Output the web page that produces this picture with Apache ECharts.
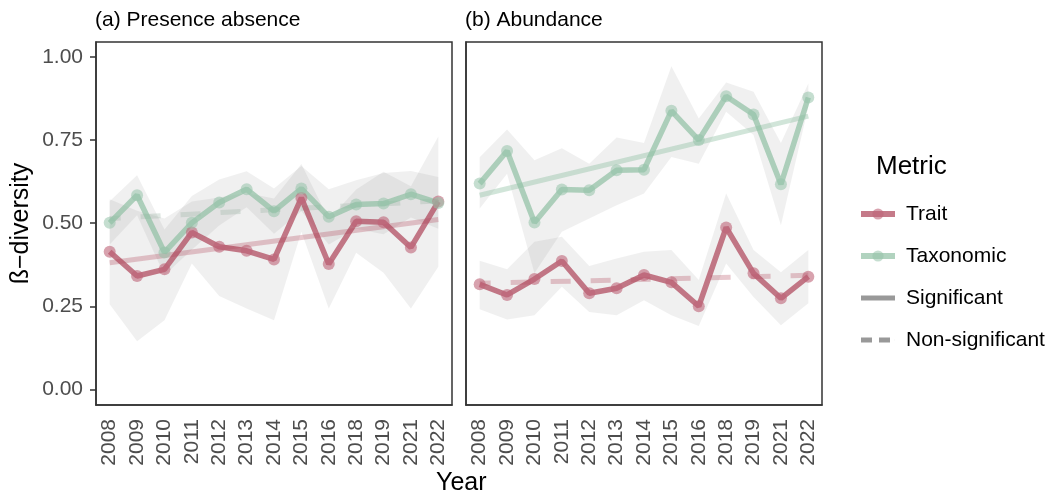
<!DOCTYPE html>
<html>
<head>
<meta charset="utf-8">
<script src="https://cdn.jsdelivr.net/npm/echarts@6/dist/echarts.min.js"></script>
<style>
  html, body { margin: 0; padding: 0; background: #fff; }
  #chart { width: 1054px; height: 494px; }
</style>
</head>
<body>
<div id="chart"></div>
<script>
// categories (2017 and 2020 not sampled)
const years = ['2008','2009','2010','2011','2012','2013','2014','2015','2016','2018','2019','2021','2022']
const yTicks = [0, 0.25, 0.5, 0.75, 1]

// (a) presence absence
const paTrait   = [0.414,0.341,0.361,0.472,0.429,0.417,0.391,0.576,0.377,0.506,0.503,0.427,0.565]
const paTraitLo = [0.256,0.145,0.208,0.379,0.281,0.243,0.208,0.474,0.243,0.411,0.351,0.243,0.369]
const paTraitHi = [0.572,0.537,0.514,0.565,0.577,0.591,0.574,0.678,0.511,0.601,0.655,0.611,0.761]
const paTax     = [0.501,0.584,0.412,0.501,0.562,0.602,0.536,0.604,0.519,0.556,0.559,0.587,0.561]
const paTaxLo   = [0.436,0.524,0.343,0.420,0.493,0.548,0.468,0.536,0.436,0.483,0.467,0.517,0.483]
const paTaxHi   = [0.566,0.644,0.481,0.582,0.631,0.656,0.604,0.672,0.602,0.629,0.651,0.657,0.639]
const paTraitTrend = [0.381, 0.511]   // significant
const paTaxTrend   = [0.514, 0.567]   // non-significant

// (b) abundance
const abTrait   = [0.316,0.284,0.332,0.386,0.289,0.304,0.344,0.322,0.250,0.487,0.349,0.274,0.339]
const abTraitLo = [0.241,0.210,0.223,0.309,0.233,0.223,0.268,0.223,0.191,0.379,0.278,0.193,0.259]
const abTraitHi = [0.387,0.361,0.444,0.459,0.371,0.394,0.414,0.419,0.329,0.589,0.419,0.352,0.419]
const abTax     = [0.619,0.717,0.502,0.601,0.599,0.659,0.661,0.838,0.750,0.882,0.827,0.617,0.878]
const abTaxLo   = [0.544,0.649,0.349,0.474,0.514,0.554,0.589,0.699,0.679,0.835,0.765,0.494,0.850]
const abTaxHi   = [0.698,0.782,0.689,0.725,0.679,0.758,0.741,0.972,0.815,0.923,0.895,0.741,0.920]
const abTaxTrend   = [0.584, 0.822]   // significant
const abTraitTrend = [0.319, 0.343]   // non-significant

const traitCol = 'rgba(175,70,92,0.72)'
const traitPt = 'rgba(190,100,120,0.6)'
const taxCol = 'rgba(140,190,160,0.68)'
const taxPt = 'rgba(150,195,170,0.55)'
const bandCol = 'rgba(128,128,128,0.17)'
const font = '"Liberation Sans", Arial, sans-serif'

// ribbon = invisible lower series + stacked difference
function band(lo, hi, idx, key) {
    const base = {
        type: 'line', xAxisIndex: idx, yAxisIndex: idx, stack: key,
        symbol: 'none', silent: true, lineStyle: { opacity: 0 }, z: 1
    }
    return [
        Object.assign({}, base, { data: lo, areaStyle: { opacity: 0 } }),
        Object.assign({}, base, { data: hi.map((v, i) => +(v - lo[i]).toFixed(3)), areaStyle: { color: bandCol } })
    ]
}

function trend(vals, idx, color, dashed) {
    return {
        type: 'line', xAxisIndex: idx, yAxisIndex: idx, symbol: 'none', silent: true, z: 2,
        data: [[0, vals[0]], [years.length - 1, vals[1]]],
        lineStyle: dashed ? { color: color, width: 5, type: [20, 20], dashOffset: 9 } : { color: color, width: 5 }
    }
}

function metric(name, vals, idx, color, pt) {
    return {
        name: name, type: 'line', xAxisIndex: idx, yAxisIndex: idx, data: vals, z: 3,
        symbol: 'circle', symbolSize: 12,
        itemStyle: { color: pt },
        lineStyle: { color: color, width: 5.5 }
    }
}

function xAx(idx) {
    return {
        type: 'category', gridIndex: idx, data: years, boundaryGap: true,
        axisLine: { onZero: false, lineStyle: { color: '#333', width: 1.5 } },
        axisTick: { alignWithLabel: true, length: 6, lineStyle: { color: '#333', width: 1.5 } },
        axisLabel: { rotate: 90, fontSize: 21, color: '#4d4d4d', fontFamily: font, margin: 14 },
        splitLine: { show: false }
    }
}

function yAx(idx) {
    return {
        type: 'value', gridIndex: idx, min: -0.047, max: 1.045,
        axisLine: { show: true, onZero: false, lineStyle: { color: '#333', width: 1.5 } },
        axisTick: { show: idx === 0, length: 6, customValues: yTicks, lineStyle: { color: '#333', width: 1.5 } },
        axisLabel: {
            show: idx === 0, customValues: yTicks, fontSize: 21, color: '#4d4d4d', fontFamily: font, margin: 13,
            formatter: v => v.toFixed(2)
        },
        splitLine: { show: false },
        name: idx === 0 ? 'ß\u2212diversity' : '',
        nameLocation: 'middle', nameGap: 62, nameRotate: 90,
        nameTextStyle: { fontSize: 25, color: '#000', fontFamily: font }
    }
}

const chart = echarts.init(document.getElementById('chart'), null, { renderer: 'canvas' })
chart.setOption({
    animation: false,
    backgroundColor: '#fff',
    textStyle: { fontFamily: font },
    title: [
        { text: '(a) Presence absence', left: 90, top: 5, textStyle: { fontSize: 21, fontWeight: 'normal', color: '#000' } },
        { text: '(b) Abundance', left: 460, top: 5, textStyle: { fontSize: 21, fontWeight: 'normal', color: '#000' } },
        { text: 'Year', left: 431, top: 466, textStyle: { fontSize: 25, fontWeight: 'normal', color: '#000' } },
        { text: 'Metric', left: 871, top: 149, textStyle: { fontSize: 26, fontWeight: 'normal', color: '#000' } }
    ],
    grid: [
        { left: 96, top: 42, width: 356, height: 363, show: true, borderColor: '#333', borderWidth: 1.5 },
        { left: 466, top: 42, width: 356, height: 363, show: true, borderColor: '#333', borderWidth: 1.5 }
    ],
    legend: {
        orient: 'vertical', left: 853, top: 197,
        itemWidth: 34, itemHeight: 14, itemGap: 18,
        lineStyle: { width: 6 },
        textStyle: { fontSize: 21, color: '#000', fontFamily: font, lineHeight: 24, padding: [0, 0, 0, 6] },
        data: [
            { name: 'Trait' },
            { name: 'Taxonomic' },
            { name: 'Significant', icon: 'path://M0,0H34V5H0Z' },
            { name: 'Non-significant', icon: 'path://M0,0H11V5H0Z M18,0H29V5H18Z M33.9,2H34V3H33.9Z' }
        ]
    },
    xAxis: [xAx(0), xAx(1)],
    yAxis: [yAx(0), yAx(1)],
    series: [
        ...band(paTraitLo, paTraitHi, 0, 'a1'),
        ...band(paTaxLo, paTaxHi, 0, 'a2'),
        ...band(abTraitLo, abTraitHi, 1, 'b1'),
        ...band(abTaxLo, abTaxHi, 1, 'b2'),
        trend(paTraitTrend, 0, 'rgba(178,74,94,0.3)', false),
        trend(paTaxTrend, 0, 'rgba(150,175,160,0.3)', true),
        trend(abTaxTrend, 1, 'rgba(140,190,160,0.4)', false),
        trend(abTraitTrend, 1, 'rgba(178,74,94,0.3)', true),
        metric('Trait', paTrait, 0, traitCol, traitPt),
        metric('Taxonomic', paTax, 0, taxCol, taxPt),
        metric('Trait', abTrait, 1, traitCol, traitPt),
        metric('Taxonomic', abTax, 1, taxCol, taxPt),
        // legend-only entries for the trend line types
        { name: 'Significant', type: 'line', data: [], symbol: 'none', itemStyle: { color: '#999' }, lineStyle: { color: '#999', width: 6 } },
        { name: 'Non-significant', type: 'line', data: [], symbol: 'none', itemStyle: { color: '#999' }, lineStyle: { color: '#999', width: 6, type: [10, 10] } }
    ]
})
</script>
</body>
</html>
